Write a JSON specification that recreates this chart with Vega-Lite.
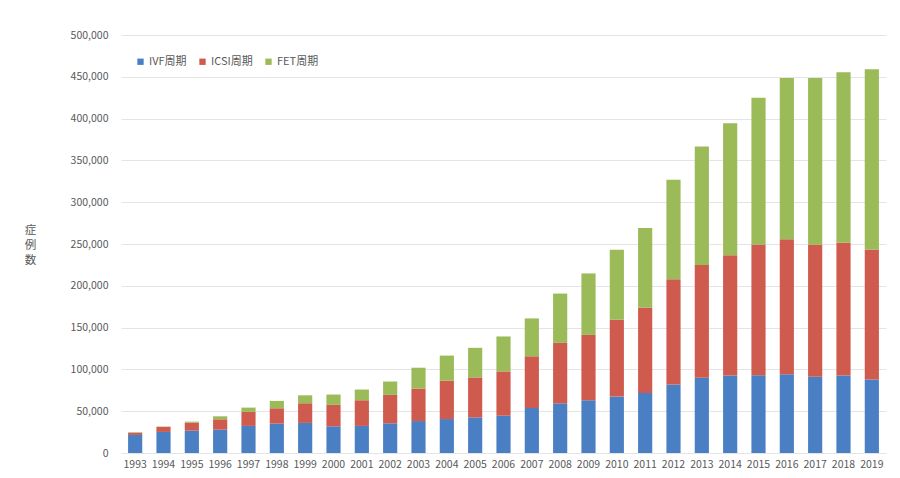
{
  "$schema": "https://vega.github.io/schema/vega-lite/v6.json",
  "autosize": "none",
  "width": 765,
  "height": 418,
  "padding": {"left": 121, "top": 35, "right": 14, "bottom": 25},
  "background": "white",
  "config": {
    "view": {"stroke": null},
    "font": "Noto Sans CJK JP",
    "axis": {"labelFont": "Noto Sans CJK JP", "titleFont": "Noto Sans CJK JP"},
    "legend": {"labelFont": "Noto Sans CJK JP"}
  },
  "data": {
    "values": [
      {"year": "1993", "type": "IVF周期", "n": 21600},
      {"year": "1993", "type": "ICSI周期", "n": 2700},
      {"year": "1993", "type": "FET周期", "n": 500},
      {"year": "1994", "type": "IVF周期", "n": 25200},
      {"year": "1994", "type": "ICSI周期", "n": 6000},
      {"year": "1994", "type": "FET周期", "n": 400},
      {"year": "1995", "type": "IVF周期", "n": 26700},
      {"year": "1995", "type": "ICSI周期", "n": 9600},
      {"year": "1995", "type": "FET周期", "n": 1200},
      {"year": "1996", "type": "IVF周期", "n": 27900},
      {"year": "1996", "type": "ICSI周期", "n": 12400},
      {"year": "1996", "type": "FET周期", "n": 3600},
      {"year": "1997", "type": "IVF周期", "n": 32400},
      {"year": "1997", "type": "ICSI周期", "n": 16800},
      {"year": "1997", "type": "FET周期", "n": 5100},
      {"year": "1998", "type": "IVF周期", "n": 35100},
      {"year": "1998", "type": "ICSI周期", "n": 18400},
      {"year": "1998", "type": "FET周期", "n": 8800},
      {"year": "1999", "type": "IVF周期", "n": 36000},
      {"year": "1999", "type": "ICSI周期", "n": 23500},
      {"year": "1999", "type": "FET周期", "n": 9500},
      {"year": "2000", "type": "IVF周期", "n": 31900},
      {"year": "2000", "type": "ICSI周期", "n": 25700},
      {"year": "2000", "type": "FET周期", "n": 12300},
      {"year": "2001", "type": "IVF周期", "n": 32400},
      {"year": "2001", "type": "ICSI周期", "n": 30700},
      {"year": "2001", "type": "FET周期", "n": 12800},
      {"year": "2002", "type": "IVF周期", "n": 35500},
      {"year": "2002", "type": "ICSI周期", "n": 34000},
      {"year": "2002", "type": "FET周期", "n": 16000},
      {"year": "2003", "type": "IVF周期", "n": 38200},
      {"year": "2003", "type": "ICSI周期", "n": 38900},
      {"year": "2003", "type": "FET周期", "n": 24900},
      {"year": "2004", "type": "IVF周期", "n": 40600},
      {"year": "2004", "type": "ICSI周期", "n": 45800},
      {"year": "2004", "type": "FET周期", "n": 30100},
      {"year": "2005", "type": "IVF周期", "n": 42600},
      {"year": "2005", "type": "ICSI周期", "n": 47800},
      {"year": "2005", "type": "FET周期", "n": 35400},
      {"year": "2006", "type": "IVF周期", "n": 44600},
      {"year": "2006", "type": "ICSI周期", "n": 53000},
      {"year": "2006", "type": "FET周期", "n": 41800},
      {"year": "2007", "type": "IVF周期", "n": 53800},
      {"year": "2007", "type": "ICSI周期", "n": 61900},
      {"year": "2007", "type": "FET周期", "n": 45300},
      {"year": "2008", "type": "IVF周期", "n": 59400},
      {"year": "2008", "type": "ICSI周期", "n": 72300},
      {"year": "2008", "type": "FET周期", "n": 59000},
      {"year": "2009", "type": "IVF周期", "n": 63100},
      {"year": "2009", "type": "ICSI周期", "n": 78200},
      {"year": "2009", "type": "FET周期", "n": 73500},
      {"year": "2010", "type": "IVF周期", "n": 67500},
      {"year": "2010", "type": "ICSI周期", "n": 91900},
      {"year": "2010", "type": "FET周期", "n": 83600},
      {"year": "2011", "type": "IVF周期", "n": 71900},
      {"year": "2011", "type": "ICSI周期", "n": 102000},
      {"year": "2011", "type": "FET周期", "n": 95100},
      {"year": "2012", "type": "IVF周期", "n": 81900},
      {"year": "2012", "type": "ICSI周期", "n": 125900},
      {"year": "2012", "type": "FET周期", "n": 119200},
      {"year": "2013", "type": "IVF周期", "n": 89900},
      {"year": "2013", "type": "ICSI周期", "n": 135100},
      {"year": "2013", "type": "FET周期", "n": 141500},
      {"year": "2014", "type": "IVF周期", "n": 92700},
      {"year": "2014", "type": "ICSI周期", "n": 143900},
      {"year": "2014", "type": "FET周期", "n": 157900},
      {"year": "2015", "type": "IVF周期", "n": 93100},
      {"year": "2015", "type": "ICSI周期", "n": 156300},
      {"year": "2015", "type": "FET周期", "n": 175500},
      {"year": "2016", "type": "IVF周期", "n": 94300},
      {"year": "2016", "type": "ICSI周期", "n": 161500},
      {"year": "2016", "type": "FET周期", "n": 192700},
      {"year": "2017", "type": "IVF周期", "n": 91100},
      {"year": "2017", "type": "ICSI周期", "n": 158300},
      {"year": "2017", "type": "FET周期", "n": 199100},
      {"year": "2018", "type": "IVF周期", "n": 92700},
      {"year": "2018", "type": "ICSI周期", "n": 158700},
      {"year": "2018", "type": "FET周期", "n": 203900},
      {"year": "2019", "type": "IVF周期", "n": 87900},
      {"year": "2019", "type": "ICSI周期", "n": 155600},
      {"year": "2019", "type": "FET周期", "n": 215400}
    ]
  },
  "transform": [
    {"calculate": "indexof(['IVF周期', 'ICSI周期', 'FET周期'], datum.type)", "as": "stackOrder"}
  ],
  "mark": {"type": "bar"},
  "encoding": {
    "x": {
      "field": "year",
      "type": "ordinal",
      "scale": {"paddingInner": 0.5, "paddingOuter": 0.25},
      "axis": {
        "title": null,
        "labelAngle": 0,
        "labelFontSize": 10.5,
        "labelColor": "#595959",
        "labelPadding": 6,
        "ticks": false,
        "domain": false
      }
    },
    "y": {
      "field": "n",
      "type": "quantitative",
      "stack": "zero",
      "scale": {"domain": [0, 500000], "nice": false},
      "axis": {
        "values": [0, 50000, 100000, 150000, 200000, 250000, 300000, 350000, 400000, 450000, 500000],
        "format": ",d",
        "labelFontSize": 10.5,
        "labelColor": "#595959",
        "labelPadding": 13,
        "ticks": false,
        "domain": false,
        "gridColor": "#e4e4e4",
        "title": ["症", "例", "数"],
        "titleAngle": 0,
        "titleAlign": "center",
        "titleBaseline": "middle",
        "titleFontSize": 11.5,
        "titleFontWeight": "normal",
        "titleColor": "#595959",
        "titleLineHeight": 15,
        "titleX": -91,
        "titleY": 195
      }
    },
    "color": {
      "field": "type",
      "type": "nominal",
      "scale": {
        "domain": ["IVF周期", "ICSI周期", "FET周期"],
        "range": ["#4a7fc3", "#cf5a4e", "#9bbb59"]
      },
      "legend": {
        "title": null,
        "orient": "none",
        "direction": "horizontal",
        "legendX": 14,
        "legendY": 21,
        "symbolType": "square",
        "symbolSize": 40,
        "symbolOffset": 0,
        "labelFontSize": 11,
        "labelColor": "#595959",
        "labelOffset": 3,
        "columnPadding": 10
      }
    },
    "order": {"field": "stackOrder", "type": "quantitative"}
  }
}
